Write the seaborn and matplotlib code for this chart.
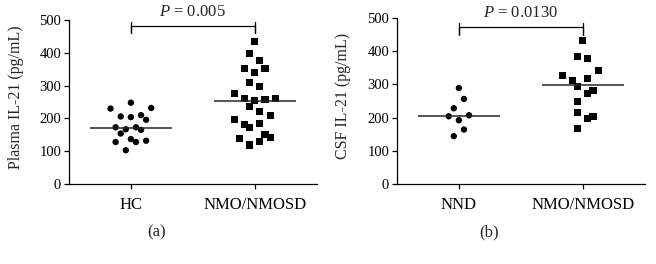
import numpy as np
import pandas as pd
import matplotlib
matplotlib.use('Agg')
import matplotlib.pyplot as plt
import seaborn as sns


# Panel (a): plasma IL-21 (pg/mL)
plasma_groups = ['HC', 'NMO/NMOSD']
plasma_hc = [230, 248, 232, 206, 204, 210, 196, 173, 167, 173, 165, 154, 137, 128, 132, 128, 103]
plasma_hc_slot = [-4, 0, 4, -2, 0, 2, 3, -3, -1, 1, 2, -2, 0, 1, 3, -3, -1]
plasma_nmo = [434, 399, 376, 352, 340, 352, 309, 297, 275, 260, 255, 257, 261,
              236, 220, 208, 198, 181, 173, 184, 140, 150, 143, 119, 130]
plasma_nmo_slot = [0, -1, 1, -2, 0, 2, -1, 1, -4, -2, 0, 2, 4,
                   -1, 1, 3, -4, -2, -1, 1, -3, 2, 3, -1, 1]
plasma_lines = [172, 254]
plasma_p = ' = 0.005'

# Panel (b): CSF IL-21 (pg/mL)
csf_groups = ['NND', 'NMO/NMOSD']
csf_nnd = [289, 256, 228, 204, 192, 207, 164, 144]
csf_nnd_slot = [0, 1, -1, -2, 0, 2, 1, -1]
csf_nmo = [433, 383, 377, 342, 328, 312, 317, 294, 281, 272, 249, 216, 196, 202, 166]
csf_nmo_slot = [0, -1, 1, 3, -4, -2, 1, -1, 2, 1, -1, -1, 1, 2, -1]
csf_lines = [206, 297]
csf_p = ' = 0.0130'

sns.set_style('ticks')
plt.rcParams['font.family'] = ['Liberation Serif', 'DejaVu Serif']
plt.rcParams['mathtext.fontset'] = 'custom'
plt.rcParams['mathtext.it'] = 'Liberation Serif:italic'
plt.rcParams['mathtext.rm'] = 'Liberation Serif'

SLOT = 0.041


def make_frame(groups, a, a_slot, b, b_slot):
    df = pd.DataFrame({
        'group': [groups[0]] * len(a) + [groups[1]] * len(b),
        'value': a + b,
        'slot': a_slot + b_slot,
    })
    df['pos'] = df['group'].map({g: i for i, g in enumerate(groups)}) + df['slot'] * SLOT
    return df


def panel(ax, df, groups, lines, ptext, ylabel, bracket, label_x):
    sns.scatterplot(data=df, x='pos', y='value', style='group', hue='group',
                    markers={groups[0]: 'o', groups[1]: 's'},
                    palette={groups[0]: 'black', groups[1]: 'black'},
                    size='group', sizes={groups[0]: 21, groups[1]: 26},
                    linewidth=0, legend=False, ax=ax, clip_on=False)
    for i, m in enumerate(lines):
        ax.hlines(m, i - 0.33, i + 0.33, color='#262626', lw=1.1, zorder=1)
    top, low, up = bracket
    ax.plot([0, 0, 0, 1, 1, 1], [up, low, top, top, low, up], color='black',
            lw=0.9, clip_on=False, solid_joinstyle='miter')
    ax.text(0.5, up + 6, r'$P$' + ptext, ha='center', va='bottom', fontsize=12)
    ax.set_xlim(-0.5, 1.5)
    ax.set_ylim(0, 500)
    ax.set_yticks(range(0, 501, 100))
    ax.set_xticks([0, 1])
    ax.set_xticklabels(groups, fontsize=12)
    ax.tick_params(axis='y', labelsize=10.5, length=3.5, width=0.9, pad=2, colors='black')
    ax.tick_params(axis='x', length=3.5, width=0.9, pad=6, colors='black')
    ax.set_xlabel('')
    ax.set_ylabel(ylabel, fontsize=11.5)
    ax.yaxis.set_label_coords(label_x, 0.53)
    for s in ['left', 'bottom']:
        ax.spines[s].set_linewidth(0.9)
        ax.spines[s].set_color('black')
    sns.despine(ax=ax)


fig = plt.figure(figsize=(6.56, 2.64), dpi=100)
ax1 = fig.add_axes([0.105, 0.303, 0.378, 0.621])
ax2 = fig.add_axes([0.605, 0.303, 0.378, 0.629])

df1 = make_frame(plasma_groups, plasma_hc, plasma_hc_slot, plasma_nmo, plasma_nmo_slot)
df2 = make_frame(csf_groups, csf_nnd, csf_nnd_slot, csf_nmo, csf_nmo_slot)

panel(ax1, df1, plasma_groups, plasma_lines, plasma_p, 'Plasma IL-21 (pg/mL)', (482, 460, 494), -0.18)
panel(ax2, df2, csf_groups, csf_lines, csf_p, 'CSF IL-21 (pg/mL)', (473, 449, 485), -0.185)

fig.text(0.239, 0.121, '(a)', ha='center', va='center', fontsize=12)
fig.text(0.745, 0.121, '(b)', ha='center', va='center', fontsize=12)

fig.savefig('out.png', dpi=100, facecolor='white')
